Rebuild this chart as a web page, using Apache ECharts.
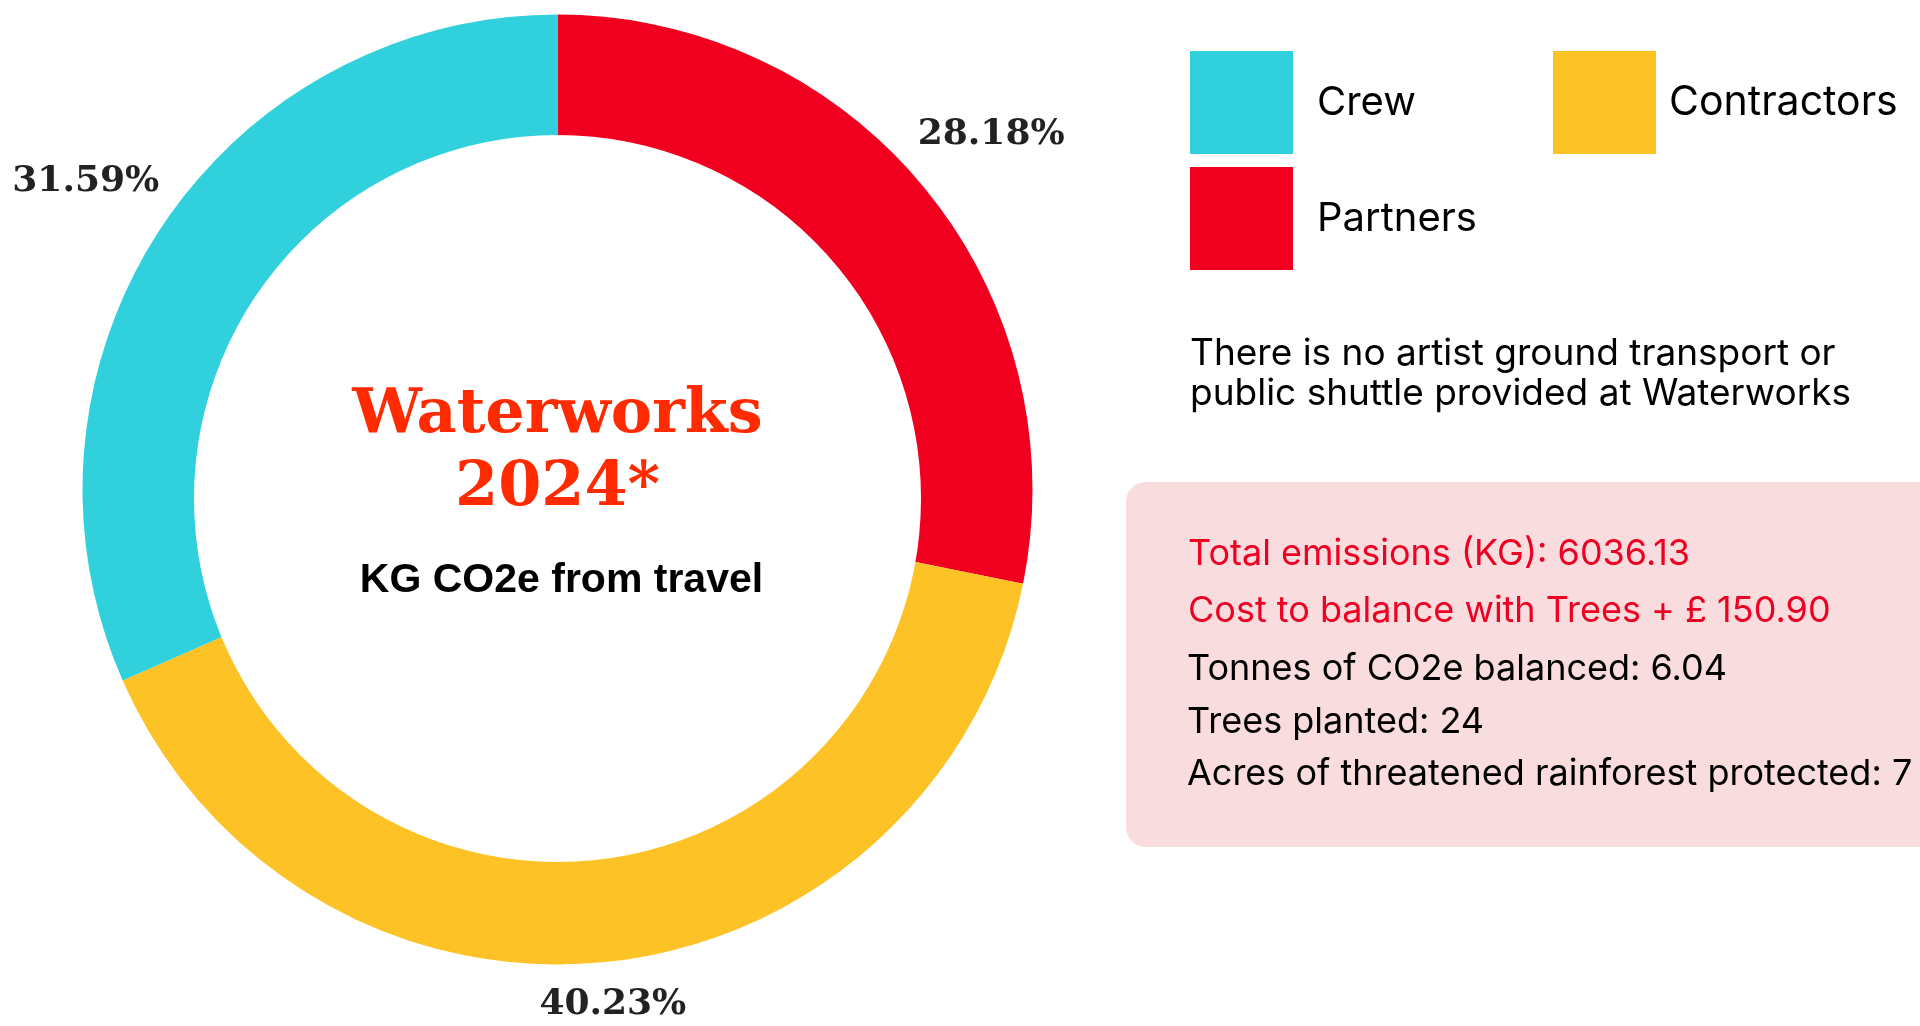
<!DOCTYPE html>
<html>
<head>
<meta charset="utf-8">
<script src="https://cdn.jsdelivr.net/npm/echarts@6/dist/echarts.min.js"></script>
<style>
html,body{margin:0;padding:0;background:#fff;}
#chart{width:1920px;height:1026px;}
</style>
</head>
<body>
<div id="chart"></div>
<script>
// ---- data ----
const categories = ['Partners', 'Contractors', 'Crew'];        // clockwise from 12 o'clock
const shares = [28.18, 40.23, 31.59];                          // % of KG CO2e from travel
const colors = ['#F0001E', '#FDC225', '#30D1DC'];
const legendLeft = ['Crew', 'Partners'];
const legendRight = ['Contractors'];
const titleLines = ['Waterworks', '2024*'];
const subtitle = 'KG CO2e from travel';
const noteLines = ['There is no artist ground transport or', 'public shuttle provided at Waterworks'];
const statsRed = ['Total emissions (KG): 6036.13', 'Cost to balance with Trees + \u00A3 150.90'];
const statsBlack = ['Tonnes of CO2e balanced: 6.04', 'Trees planted: 24', 'Acres of threatened rainforest protected: 7'];

// ---- layout ----
const CX = 557.5, CY = 489.5, R_OUT = 475;
const HOLE_CX = 557.5, HOLE_CY = 498.5, HOLE_R = 363.5;
const LABEL_GAP = 17;
const statsY = [554, 611, 669, 722, 774];

const chart = echarts.init(document.getElementById('chart'), null, {renderer: 'canvas'});
const total = shares.reduce((a, b) => a + b, 0);

const option = {
  animation: false,
  backgroundColor: '#ffffff',
  legend: [
    {
      data: legendLeft, orient: 'vertical', left: 1190, top: 51, padding: 0,
      itemWidth: 103, itemHeight: 103, itemGap: 13, icon: 'rect', selectedMode: false,
      textStyle: {fontFamily: 'Inter', fontSize: 40, color: '#000', padding: [0, 0, 0, 19]}
    },
    {
      data: legendRight, orient: 'vertical', left: 1553, top: 51, padding: 0,
      itemWidth: 103, itemHeight: 103, itemGap: 13, icon: 'rect', selectedMode: false,
      textStyle: {fontFamily: 'Inter', fontSize: 41, color: '#000', padding: [0, 0, 0, 8]}
    }
  ],
  series: [{
    type: 'pie',
    center: [CX, CY],
    radius: [0, R_OUT],
    startAngle: 90,
    clockwise: true,
    avoidLabelOverlap: false,
    emphasis: {disabled: true},
    itemStyle: {borderWidth: 0},
    label: {
      show: true, position: 'outside',
      formatter: p => p.value.toFixed(2) + '%',
      fontFamily: 'DejaVu Serif', fontWeight: 'bold', fontSize: 36, color: '#222'
    },
    labelLine: {show: false},
    labelLayout: function (p) {
      const i = p.dataIndex;
      let before = 0;
      for (let k = 0; k < i; k++) before += shares[k];
      const mid = (before + shares[i] / 2) / total * Math.PI * 2;
      const sx = Math.sin(mid), sy = -Math.cos(mid);
      const w = p.labelRect.width, h = p.labelRect.height;
      const d = R_OUT + LABEL_GAP + Math.abs(sx) * w / 2 + Math.abs(sy) * h / 2;
      return {x: CX + sx * d, y: CY + sy * d, align: 'center', verticalAlign: 'middle'};
    },
    data: categories.map((c, i) => ({name: c, value: shares[i], itemStyle: {color: colors[i]}}))
  }],
  graphic: [
    {type: 'circle', shape: {cx: HOLE_CX, cy: HOLE_CY, r: HOLE_R}, style: {fill: '#ffffff'}, z: 50},
    {type: 'text', x: CX, y: 416, z: 60, style: {text: titleLines[0], fontFamily: 'DejaVu Serif', fontWeight: 'bold', fontSize: 62, fill: '#FF2A00', align: 'center', verticalAlign: 'middle'}},
    {type: 'text', x: CX, y: 489, z: 60, style: {text: titleLines[1], fontFamily: 'DejaVu Serif', fontWeight: 'bold', fontSize: 62, fill: '#FF2A00', align: 'center', verticalAlign: 'middle'}},
    {type: 'text', x: CX + 4, y: 581, z: 60, style: {text: subtitle, fontFamily: 'Liberation Sans', fontWeight: 'bold', fontSize: 41, fill: '#000', align: 'center', verticalAlign: 'middle'}},
    {type: 'text', x: 1190, y: 354, style: {text: noteLines[0], fontFamily: 'Inter', fontSize: 37, fill: '#000', align: 'left', verticalAlign: 'middle'}},
    {type: 'text', x: 1190, y: 394, style: {text: noteLines[1], fontFamily: 'Inter', fontSize: 37, fill: '#000', align: 'left', verticalAlign: 'middle'}},
    {type: 'rect', shape: {x: 1126, y: 482, width: 830, height: 365, r: 20}, style: {fill: '#F9DCDE'}, z: -1},
  ].concat(statsRed.map((t, i) => ({
    type: 'text', x: 1188, y: statsY[i],
    style: {text: t, fontFamily: 'Inter', fontSize: 36, fill: '#EE0022', align: 'left', verticalAlign: 'middle'}
  }))).concat(statsBlack.map((t, i) => ({
    type: 'text', x: 1187, y: statsY[i + statsRed.length],
    style: {text: t, fontFamily: 'Inter', fontSize: 36, fill: '#000', align: 'left', verticalAlign: 'middle'}
  })))
};
chart.setOption(option);
</script>
</body>
</html>
